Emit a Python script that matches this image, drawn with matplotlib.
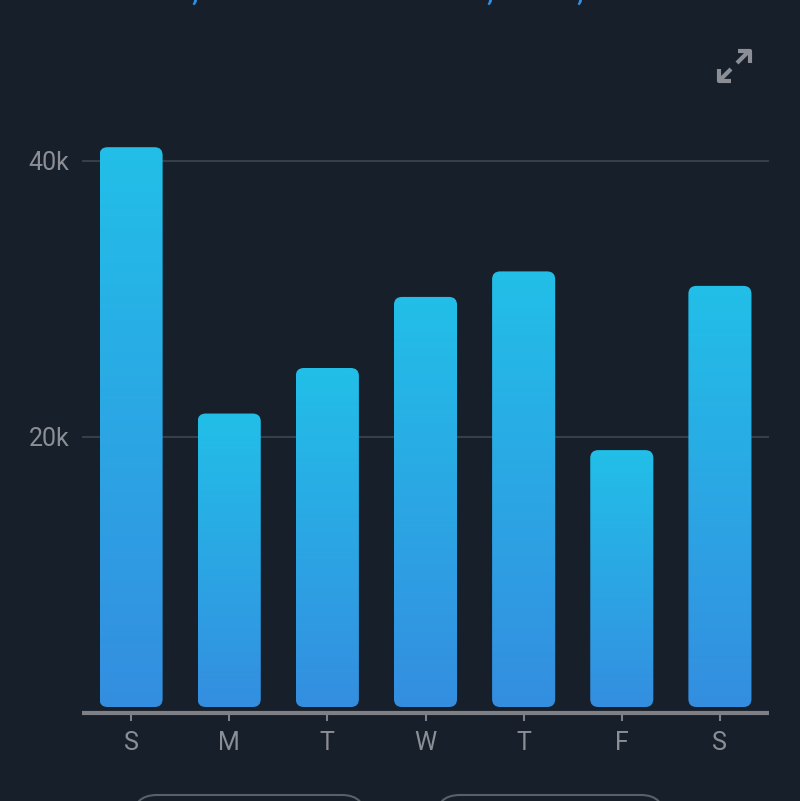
import numpy as np
import matplotlib.pyplot as plt
from matplotlib.patches import FancyBboxPatch
from matplotlib.colors import LinearSegmentedColormap
from matplotlib.lines import Line2D

days = ["S", "M", "T", "W", "T", "F", "S"]
values = [41000, 21700, 25000, 30150, 32000, 19050, 30950]
ytick_vals = [20000, 40000]
ytick_labels = ["20k", "40k"]

bg = "#161f2a"
grey = "#8b8e94"
top_col = "#22bfe8"
bot_col = "#348ee0"

plt.rcParams['font.family'] = ['Liberation Sans Narrow', 'Roboto', 'DejaVu Sans']

fig = plt.figure(figsize=(8, 8.01), dpi=100)
fig.patch.set_facecolor(bg)

# axes: x from 82px to 769px, y zero at 713px, 20k per 276px
W, H = 800, 801
y0 = 713
ymax = 45000
ytop = y0 - ymax / 20000 * 276
ax = fig.add_axes([82 / W, (H - y0) / H, (769 - 82) / W, (y0 - ytop) / H])
ax.set_facecolor(bg)
ax.set_xlim(-0.5, 6.5)
ax.set_ylim(0, ymax)

for s in ["top", "right", "left"]:
    ax.spines[s].set_visible(False)
ax.spines["bottom"].set_color("#7e8085")
ax.spines["bottom"].set_linewidth(3)
ax.spines["bottom"].set_capstyle("butt")

ax.set_yticks(ytick_vals)
ax.set_yticklabels(ytick_labels)
ax.tick_params(axis="y", length=0, pad=9, labelsize=18, labelcolor=grey)
ax.yaxis.grid(True, color="#363e49", lw=1.5)
ax.set_axisbelow(True)

ax.set_xticks(range(len(days)))
ax.set_xticklabels(days)
ax.tick_params(axis="x", length=6, width=1.5, color="#7e8085", pad=7,
               labelsize=18, labelcolor=grey)

cmap = LinearSegmentedColormap.from_list("bar", [bot_col, top_col])
grad = np.linspace(0, 1, 256).reshape(-1, 1)

bw = 63 / 98
gap = 6 * 20000 / 276  # small gap above axis line
x_per_px = 1 / 98
y_per_px = 20000 / 276
r = 8 * x_per_px
for i, v in enumerate(values):
    x0 = i - bw / 2
    patch = FancyBboxPatch((x0, gap), bw, v - gap,
                           boxstyle=f"round,pad=0,rounding_size={r}",
                           mutation_aspect=y_per_px / x_per_px,
                           facecolor="none", edgecolor="none")
    ax.add_patch(patch)
    im = ax.imshow(grad, cmap=cmap, origin="lower", aspect="auto",
                   extent=(x0, x0 + bw, gap, v), zorder=2)
    im.set_clip_path(patch)

ax.set_xlim(-0.5, 6.5)
ax.set_ylim(0, ymax)

# cut-off blue title text at the top (only comma tails show)
for cx in [195, 490, 580]:
    fig.text(cx / W, 1 - 1 / H, ",", color="#2f8fe0", fontsize=24,
             ha="center", va="baseline", family="Roboto")

# expand icon
def fx(px):
    return px / W

def fy(py):
    return 1 - py / H

icon_kw = dict(color="#8b8e94", lw=3, solid_capstyle="butt", transform=fig.transFigure)
fig.add_artist(Line2D([fx(737), fx(749)], [fy(63), fy(51)], **icon_kw))
fig.add_artist(Line2D([fx(738), fx(750), fx(750)], [fy(51), fy(51), fy(63)], **icon_kw))
fig.add_artist(Line2D([fx(731), fx(719)], [fy(69), fy(81)], **icon_kw))
fig.add_artist(Line2D([fx(719), fx(719), fx(731)], [fy(69), fy(81), fy(81)], **icon_kw))

# partially visible buttons at the bottom
for bx0, bx1 in [(133, 366), (436, 665)]:
    btn = FancyBboxPatch((fx(bx0), fy(845)), fx(bx1) - fx(bx0), 50 / H,
                         boxstyle="round,pad=0,rounding_size=0.03",
                         transform=fig.transFigure, facecolor="none",
                         edgecolor="#5a6068", lw=1.5)
    fig.add_artist(btn)

fig.savefig("out.png", dpi=100, facecolor=bg)
